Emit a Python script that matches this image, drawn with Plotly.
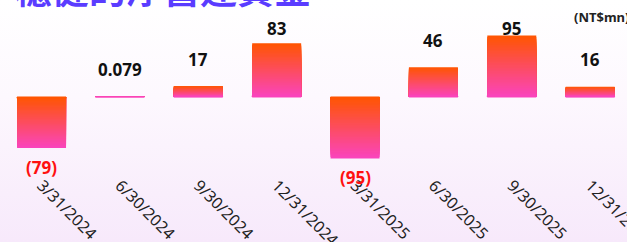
import plotly.graph_objects as go
import base64

# ---- data ----
categories = ["3/31/2024", "6/30/2024", "9/30/2024", "12/31/2024",
              "3/31/2025", "6/30/2025", "9/30/2025", "12/31/2025"]
values = [-79, 0.079, 17, 83, -95, 46, 95, 16]
value_labels = ["(79)", "0.079", "17", "83", "(95)", "46", "95", "16"]
title_text = "穩健的淨營運資金"
unit_text = "(NT$mn)"

# ---- styles ----
TOP_COLOR = (255, 85, 0)       # orange at top of bar
BOTTOM_COLOR = (250, 68, 190)  # pink at bottom of bar
N_SLICES = 40
W, H = 627, 242
MARGIN_B = 70
Y_RANGE = [-116, 150]
px_per_unit = (H - MARGIN_B) / (Y_RANGE[1] - Y_RANGE[0])

def mix(t):
    r = [round(BOTTOM_COLOR[i] + (TOP_COLOR[i] - BOTTOM_COLOR[i]) * t) for i in range(3)]
    return f"rgb({r[0]},{r[1]},{r[2]})"

fig = go.Figure()
# overlaid bars of decreasing height build a vertical gradient per bar
for k in range(N_SLICES):
    frac = (N_SLICES - k - 0.5) / N_SLICES
    colors = [mix(frac if v >= 0 else 1 - frac) for v in values]
    last = k == N_SLICES - 1
    fig.add_trace(go.Bar(
        x=categories, y=[v * (N_SLICES - k) / N_SLICES for v in values],
        marker=dict(color=colors, line=dict(width=1 if last else 0, color=colors)),
        hoverinfo="skip", showlegend=False,
    ))

# value labels
for c, v, lab in zip(categories, values, value_labels):
    if v >= 0:
        shift = min(27, 68.5 - v * px_per_unit)
        col = "#111111"
    else:
        shift = -19
        col = "#ff1010"
    fig.add_annotation(x=c, y=v, yshift=shift, text=f"<b>{lab}</b>", showarrow=False,
                       font=dict(family="Noto Sans", size=17, color=col),
                       xanchor="center", yanchor="middle")

# title (cropped at top)
fig.add_annotation(xref="paper", yref="paper", x=0.02, y=1.0, yshift=-17,
                   xanchor="left", yanchor="bottom",
                   text=f"<b>{title_text}</b>", showarrow=False,
                   font=dict(family="Noto Sans CJK TC", size=37, color="#5a3cff"))
fig.add_annotation(xref="paper", yref="paper", x=1.0, y=1.0, yshift=-17, xshift=4,
                   xanchor="right", yanchor="middle",
                   text=f"<b>{unit_text}</b>", showarrow=False,
                   font=dict(family="Noto Sans", size=13, color="#222222"))

# gradient background via SVG data URI
svg = ('<svg xmlns="http://www.w3.org/2000/svg" width="627" height="242" preserveAspectRatio="none">'
       '<defs><linearGradient id="g" x1="0" y1="0" x2="0" y2="1">'
       '<stop offset="0" stop-color="#ffffff"/>'
       '<stop offset="0.4" stop-color="#fdf8fe"/>'
       '<stop offset="1" stop-color="#f7e9fb"/>'
       '</linearGradient></defs>'
       '<rect width="627" height="242" fill="url(#g)"/></svg>')
uri = "data:image/svg+xml;base64," + base64.b64encode(svg.encode()).decode()

fig.update_layout(
    width=W, height=H,
    margin=dict(l=0, r=0, t=0, b=MARGIN_B, autoexpand=False),
    barmode="overlay", bargap=0.375,
    paper_bgcolor="rgba(0,0,0,0)", plot_bgcolor="rgba(0,0,0,0)",
    images=[dict(source=uri, xref="paper", yref="paper", x=0, y=1,
                 sizex=1, sizey=H / (H - MARGIN_B), xanchor="left", yanchor="top",
                 sizing="stretch", layer="below")],
    xaxis=dict(type="category", range=[-0.53, 7.47], tickangle=45, automargin=False,
               showgrid=False, zeroline=False, showline=False, ticks="",
               tickfont=dict(family="Noto Sans", size=16, color="#222222")),
    yaxis=dict(visible=False, range=Y_RANGE, automargin=False),
)
fig.write_html("out.html", config={"displayModeBar": False},
               post_script="document.body.style.margin='0';document.body.style.overflow='hidden';")
